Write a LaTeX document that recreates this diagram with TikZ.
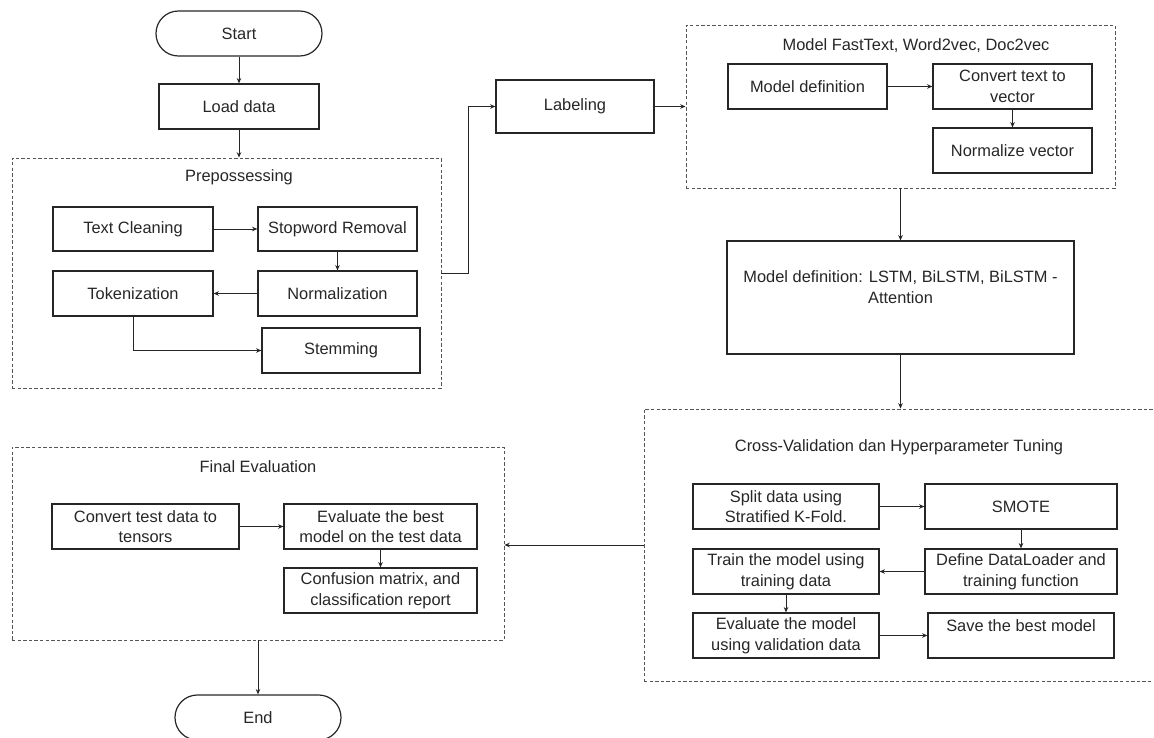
\documentclass[tikz,border=0pt]{standalone}
\usepackage{fontspec}
\setmainfont{Liberation Sans}
\usetikzlibrary{arrows.meta,calc}
\definecolor{ink}{HTML}{262626}
\definecolor{dash}{HTML}{555555}
\tikzset{
  sz/.style 2 args={minimum width=#1*0.75pt, minimum height=#2*0.75pt},
  bx/.style={draw=ink, line width=0.9pt, inner sep=1pt, align=center, text=ink,
    font=\fontsize{12.3}{15.5}\selectfont},
  term/.style={bx, rounded corners=16.8pt},
  grp/.style={draw=dash, line width=0.7pt, dash pattern=on 2.6pt off 1.6pt, inner sep=0pt},
  ttl/.style={text=ink, inner sep=0pt, font=\fontsize{12.3}{15.5}\selectfont},
  arr/.style={draw=ink, line width=0.65pt, -{Stealth[length=4pt,width=3.4pt]}},
}
\begin{document}
\begin{tikzpicture}[x=0.75pt, y=-0.75pt]
\useasboundingbox (0,0) rectangle (1154,738);
% group containers
\node[grp, sz={429}{230}] (prep) at (226.5,273) {};
\node[grp, sz={429}{163}] (ft) at (900.5,106.5) {};
\node[grp, sz={516}{272}] (cv) at (902,545) {};
\node[grp, sz={492}{193}] (fe) at (258,543.5) {};
% titles
\node[ttl] (tprep) at (239,177) {Prepossessing};
\node[ttl] (tft) at (916,46) {Model FastText, Word2vec, Doc2vec};
\node[ttl] (tcv) at (899,447) {Cross-Validation dan Hyperparameter Tuning};
\node[ttl] (tfe) at (258,467) {Final Evaluation};
% left column
\node[term, sz={166}{45}] (start) at (239,33.5) {Start};
\node[bx, sz={160}{45}] (load) at (239,106.5) {Load data};
\node[bx, sz={160}{44}] (tc) at (133,229) {Text Cleaning};
\node[bx, sz={159}{44}] (sw) at (337.5,229) {Stopword Removal};
\node[bx, sz={160}{45}] (tok) at (133,293.5) {Tokenization};
\node[bx, sz={159}{45}] (norm) at (337.5,293.5) {Normalization};
\node[bx, sz={158}{45}] (stem) at (341,350.5) {Stemming};
% labeling and embeddings
\node[bx, sz={158}{53}] (label) at (575,106.5) {Labeling};
\node[bx, sz={159}{45}] (mdef) at (807.5,86.5) {Model definition};
\node[bx, sz={159}{45}] (conv) at (1012.5,86.5) {Convert text to\\vector};
\node[bx, sz={159}{45}] (normv) at (1012.5,150.5) {Normalize vector};
\node[bx, sz={347}{113}] (lstm) at (900.5,297.5) {Model definition: LSTM, BiLSTM, BiLSTM -\\Attention\\~};
% cross-validation
\node[bx, sz={186}{45}] (split) at (786,506.5) {Split data using\\Stratified K-Fold.};
\node[bx, sz={192}{45}] (smote) at (1021,506.5) {SMOTE};
\node[bx, sz={186}{45}] (train) at (786,571.5) {Train the model using\\training data};
\node[bx, sz={192}{45}] (define) at (1021,571.5) {Define DataLoader and\\training function};
\node[bx, sz={186}{45}] (evalm) at (786,635.5) {Evaluate the model\\using validation data};
\node[bx, sz={186}{45}] (save) at (1021,635.5) {Save the best model\\~};
% final evaluation
\node[bx, sz={187}{45}] (ctd) at (145.5,526.5) {Convert test data to\\tensors};
\node[bx, sz={193}{45}] (ebest) at (380.5,526.5) {Evaluate the best\\model on the test data};
\node[bx, sz={193}{45}] (conf) at (380.5,590.5) {Confusion matrix, and\\classification report};
\node[term, sz={166}{45}] (end) at (258,717.5) {End};
% connectors
\draw[arr] (start) -- (load);
\draw[arr] (load.south) -- (load.south |- prep.north);
\draw[arr] (tc) -- (sw);
\draw[arr] (sw) -- (norm);
\draw[arr] (norm) -- (tok);
\draw[arr] (tok.south) |- (stem.west);
\draw[arr] (prep.east) -- ++(27,0) |- (label.west);
\draw[arr] (label) -- (ft);
\draw[arr] (mdef) -- (conv);
\draw[arr] (conv) -- (normv);
\draw[arr] (ft.south) -- (lstm.north);
\draw[arr] (lstm.south) -- (lstm.south |- cv.north);
\draw[arr] (split) -- (smote);
\draw[arr] (smote) -- (define);
\draw[arr] (define) -- (train);
\draw[arr] (train) -- (evalm);
\draw[arr] (evalm) -- (save);
\draw[arr] (cv.west) -- (cv.west -| fe.east);
\draw[arr] (ctd) -- (ebest);
\draw[arr] (ebest) -- (conf);
\draw[arr] (fe.south) -- (end.north);
\end{tikzpicture}
\end{document}
